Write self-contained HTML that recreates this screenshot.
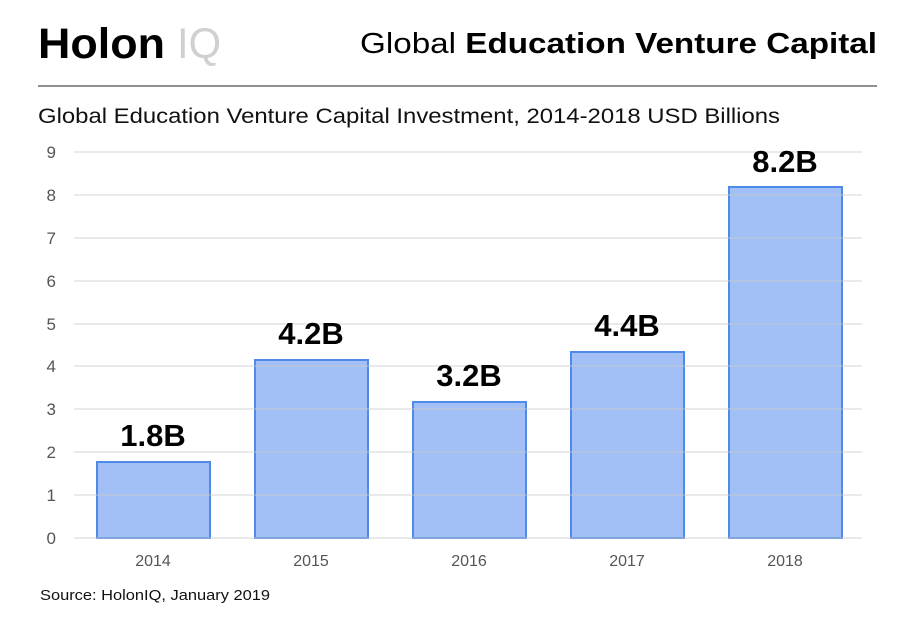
<!DOCTYPE html>
<html><head><meta charset="utf-8"><style>
body{margin:0;background:#fff;width:917px;height:632px;overflow:hidden;font-family:"Liberation Sans",sans-serif}
</style></head><body>
<svg width="917" height="632" xmlns="http://www.w3.org/2000/svg" font-family="Liberation Sans, sans-serif">
<text x="38" y="58" font-size="43" font-weight="bold" fill="#000" textLength="127" lengthAdjust="spacingAndGlyphs">Holon</text>
<text x="177" y="58" font-size="43" fill="#d0d0d0" textLength="44" lengthAdjust="spacingAndGlyphs">IQ</text>
<text x="360" y="53" font-size="29" fill="#000" textLength="517" lengthAdjust="spacingAndGlyphs">Global <tspan font-weight="bold">Education Venture Capital</tspan></text>
<line x1="38" y1="86" x2="877" y2="86" stroke="#222" stroke-width="1"/>
<text x="38" y="123" font-size="21" fill="#111" textLength="742" lengthAdjust="spacingAndGlyphs">Global Education Venture Capital Investment, 2014-2018 USD Billions</text>
<g fill="#555" font-size="17" text-anchor="end">
<text x="56" y="158">9</text><text x="56" y="201">8</text><text x="56" y="244">7</text><text x="56" y="287">6</text><text x="56" y="330">5</text><text x="56" y="372">4</text><text x="56" y="415">3</text><text x="56" y="458">2</text><text x="56" y="501">1</text><text x="56" y="544">0</text>
</g>
<g fill="rgba(100,150,238,0.6)" stroke="#4f8ae8" stroke-width="2">
<rect x="97" y="462" width="113" height="76"/>
<rect x="255" y="360" width="113" height="178"/>
<rect x="413" y="402" width="113" height="136"/>
<rect x="571" y="352" width="113" height="186"/>
<rect x="729" y="187" width="113" height="351"/>
</g>
<g stroke="#ccc" stroke-width="1" opacity="0.8">
<line x1="74" x2="862" y1="152" y2="152"/><line x1="74" x2="862" y1="195" y2="195"/><line x1="74" x2="862" y1="238" y2="238"/><line x1="74" x2="862" y1="281" y2="281"/><line x1="74" x2="862" y1="324" y2="324"/><line x1="74" x2="862" y1="366" y2="366"/><line x1="74" x2="862" y1="409" y2="409"/><line x1="74" x2="862" y1="452" y2="452"/><line x1="74" x2="862" y1="495" y2="495"/><line x1="74" x2="862" y1="538" y2="538"/>
</g>
<g font-size="31" font-weight="bold" text-anchor="middle" fill="#000">
<text x="153" y="446">1.8B</text><text x="311" y="344">4.2B</text><text x="469" y="386">3.2B</text><text x="627" y="336">4.4B</text><text x="785" y="172">8.2B</text>
</g>
<g font-size="16" fill="#555" text-anchor="middle">
<text x="153" y="566">2014</text><text x="311" y="566">2015</text><text x="469" y="566">2016</text><text x="627" y="566">2017</text><text x="785" y="566">2018</text>
</g>
<text x="40" y="600" font-size="15" fill="#111" textLength="230" lengthAdjust="spacingAndGlyphs">Source: HolonIQ, January 2019</text>
</svg>
</body></html>
